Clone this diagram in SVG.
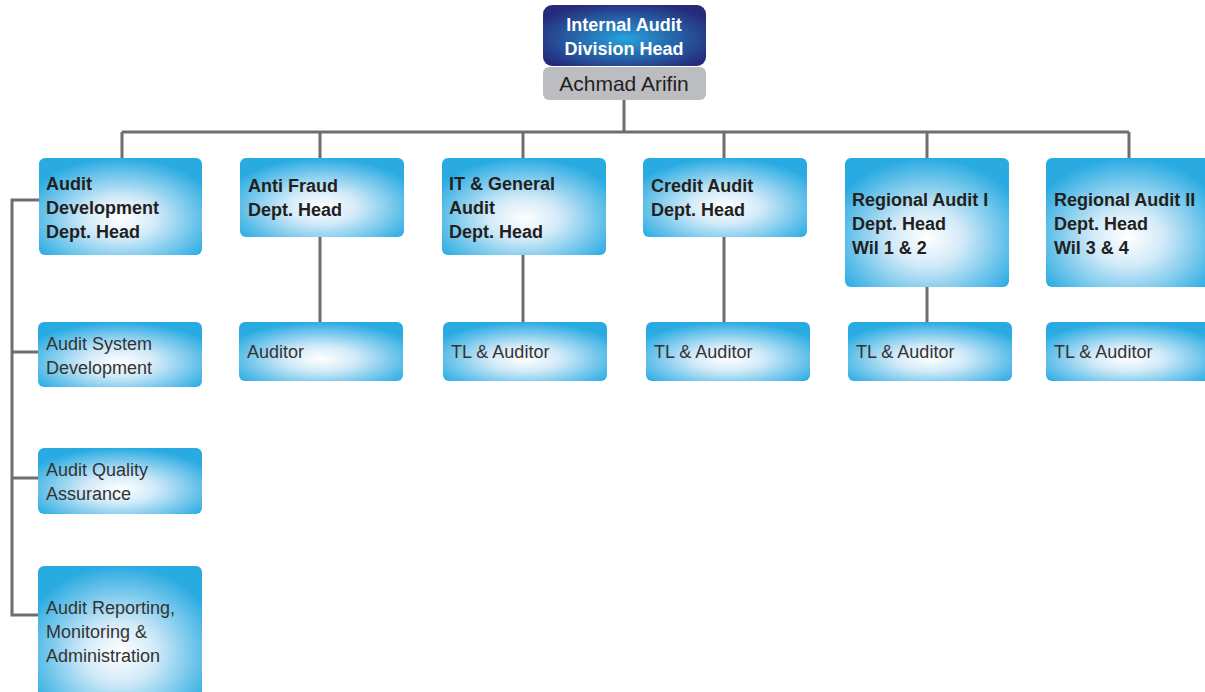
<svg xmlns="http://www.w3.org/2000/svg" width="1205" height="692" viewBox="0 0 1205 692">
<defs>
<radialGradient id="blue" cx="0.5" cy="0.62" r="0.62">
<stop offset="0" stop-color="#ffffff"/>
<stop offset="0.35" stop-color="#d2eaf8"/>
<stop offset="1" stop-color="#29abe2"/>
</radialGradient>
<radialGradient id="navy" cx="0.5" cy="0.55" r="0.6">
<stop offset="0" stop-color="#27a3dc"/>
<stop offset="1" stop-color="#262a7a"/>
</radialGradient>
<style>
.box{fill:url(#blue)}
.b{font-family:"Liberation Sans",Arial,sans-serif;font-size:18px;font-weight:bold;fill:#231f20}
.n{font-family:"Liberation Sans",Arial,sans-serif;font-size:18px;fill:#333333}
.w{font-family:"Liberation Sans",Arial,sans-serif;font-size:18px;font-weight:bold;fill:#ffffff}
.c{fill:none;stroke:#6d6e71;stroke-width:3}
</style>
</defs>
<rect width="1205" height="692" fill="#ffffff"/>
<g id="connectors">
<path class="c" d="M624 100V132M122 132H1129M122 132V158M320 132V158M523 132V158M724 132V158M927 132V158M1129 132V158"/>
<path class="c" d="M320 237V322M523 255V322M724 237V322M927 287V322"/>
<path class="c" d="M39 200H12V615H39M12 352H39M12 478H39"/>
</g>
<g id="head">
<rect x="543" y="5" width="163" height="61" rx="9" fill="url(#navy)"/>
<text class="w" x="624" y="31" text-anchor="middle">Internal Audit</text>
<text class="w" x="624" y="55" text-anchor="middle">Division Head</text>
</g>
<g id="name">
<rect x="543" y="67" width="163" height="33" rx="6" fill="#bcbdc0"/>
<text class="n" x="624" y="91" text-anchor="middle" style="font-size:21px;fill:#231f20">Achmad Arifin</text>
</g>
<g id="audit-dev">
<rect class="box" x="39" y="158" width="163" height="97" rx="6"/>
<text class="b" x="46" y="190">Audit</text>
<text class="b" x="46" y="214">Development</text>
<text class="b" x="46" y="238">Dept. Head</text>
</g>
<g id="anti-fraud">
<rect class="box" x="240" y="158" width="164" height="79" rx="6"/>
<text class="b" x="248" y="192">Anti Fraud</text>
<text class="b" x="248" y="216">Dept. Head</text>
</g>
<g id="it-general">
<rect class="box" x="442" y="158" width="164" height="97" rx="6"/>
<text class="b" x="449" y="190">IT &amp; General</text>
<text class="b" x="449" y="214">Audit</text>
<text class="b" x="449" y="238">Dept. Head</text>
</g>
<g id="credit-audit">
<rect class="box" x="643" y="158" width="164" height="79" rx="6"/>
<text class="b" x="651" y="192">Credit Audit</text>
<text class="b" x="651" y="216">Dept. Head</text>
</g>
<g id="regional-1">
<rect class="box" x="845" y="158" width="164" height="129" rx="6"/>
<text class="b" x="852" y="206">Regional Audit I</text>
<text class="b" x="852" y="230">Dept. Head</text>
<text class="b" x="852" y="254">Wil 1 &amp; 2</text>
</g>
<g id="regional-2">
<rect class="box" x="1046" y="158" width="164" height="129" rx="6"/>
<text class="b" x="1054" y="206">Regional Audit II</text>
<text class="b" x="1054" y="230">Dept. Head</text>
<text class="b" x="1054" y="254">Wil 3 &amp; 4</text>
</g>
<g id="auditor-af">
<rect class="box" x="239" y="322" width="164" height="59" rx="6"/>
<text class="n" x="247" y="358">Auditor</text>
</g>
<g id="tl-it">
<rect class="box" x="443" y="322" width="164" height="59" rx="6"/>
<text class="n" x="451" y="358">TL &amp; Auditor</text>
</g>
<g id="tl-credit">
<rect class="box" x="646" y="322" width="164" height="59" rx="6"/>
<text class="n" x="654" y="358">TL &amp; Auditor</text>
</g>
<g id="tl-reg1">
<rect class="box" x="848" y="322" width="164" height="59" rx="6"/>
<text class="n" x="856" y="358">TL &amp; Auditor</text>
</g>
<g id="tl-reg2">
<rect class="box" x="1046" y="322" width="164" height="59" rx="6"/>
<text class="n" x="1054" y="358">TL &amp; Auditor</text>
</g>
<g id="audit-system">
<rect class="box" x="38" y="322" width="164" height="65" rx="6"/>
<text class="n" x="46" y="350">Audit System</text>
<text class="n" x="46" y="374">Development</text>
</g>
<g id="audit-quality">
<rect class="box" x="38" y="448" width="164" height="66" rx="6"/>
<text class="n" x="46" y="476">Audit Quality</text>
<text class="n" x="46" y="500">Assurance</text>
</g>
<g id="audit-reporting">
<rect class="box" x="38" y="566" width="164" height="140" rx="6"/>
<text class="n" x="46" y="614">Audit Reporting,</text>
<text class="n" x="46" y="638">Monitoring &amp;</text>
<text class="n" x="46" y="662">Administration</text>
</g>
</svg>
